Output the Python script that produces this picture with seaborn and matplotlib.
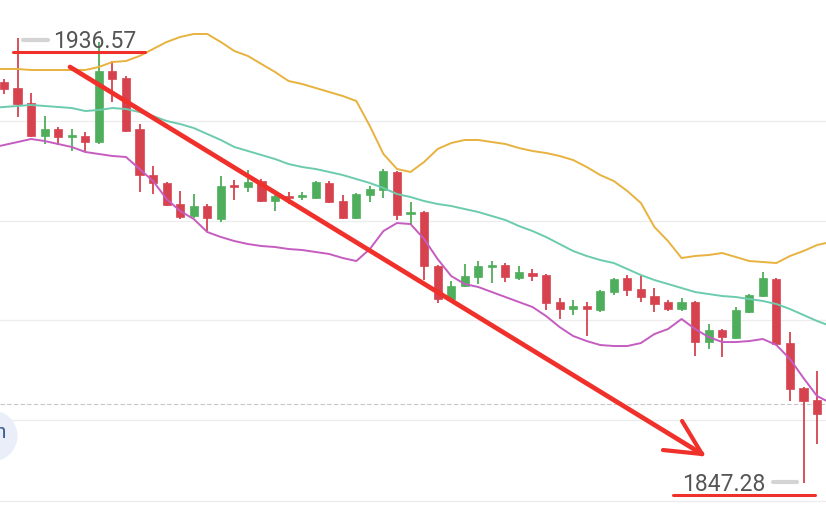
import numpy as np
import pandas as pd
import seaborn as sns
import matplotlib.pyplot as plt
from matplotlib.patches import Ellipse

# %% data (prices)
opens = [1927.80, 1926.60, 1923.59, 1916.97, 1918.37, 1916.77, 1916.97, 1915.76, 1930.01, 1928.60,
         1918.37, 1909.14, 1907.54, 1903.33, 1900.92, 1902.93, 1900.32, 1907.14, 1906.74, 1907.94,
         1903.93, 1904.93, 1904.73, 1904.53, 1907.54, 1903.93, 1900.52, 1905.13, 1906.14, 1909.75,
         1901.32, 1901.72, 1890.89, 1884.27, 1886.88, 1888.68, 1890.69, 1891.09, 1888.48, 1889.49,
         1889.08, 1883.67, 1882.26, 1882.86, 1882.06, 1885.67, 1888.48, 1886.28, 1884.87, 1883.67,
         1882.26, 1883.67, 1875.64, 1878.05, 1876.45, 1881.66, 1884.87, 1888.28, 1875.44, 1866.42,
         1864.01]
highs = [1928.40, 1936.57, 1925.59, 1920.98, 1918.77, 1918.37, 1917.77, 1935.82, 1932.01, 1929.00,
         1919.37, 1910.95, 1907.74, 1905.93, 1905.33, 1903.33, 1908.94, 1908.14, 1910.15, 1908.34,
         1905.13, 1905.73, 1905.73, 1907.94, 1907.94, 1905.13, 1905.53, 1906.94, 1910.35, 1909.95,
         1903.73, 1901.92, 1891.09, 1887.88, 1891.29, 1891.89, 1891.89, 1891.49, 1890.89, 1890.29,
         1889.28, 1884.47, 1884.07, 1883.67, 1886.08, 1888.48, 1889.08, 1888.88, 1886.48, 1884.07,
         1884.47, 1883.87, 1879.25, 1878.25, 1882.67, 1885.27, 1889.69, 1888.48, 1877.65, 1866.62,
         1869.83]
lows = [1925.39, 1920.78, 1916.77, 1915.36, 1915.16, 1913.96, 1913.96, 1915.36, 1923.79, 1917.77,
        1905.73, 1905.33, 1902.93, 1900.32, 1900.52, 1897.91, 1899.72, 1904.13, 1905.73, 1903.73,
        1901.92, 1903.33, 1904.13, 1904.33, 1903.53, 1900.32, 1900.32, 1903.73, 1904.53, 1900.12,
        1899.31, 1888.08, 1883.47, 1883.67, 1886.68, 1887.28, 1887.48, 1887.68, 1888.08, 1887.88,
        1882.06, 1880.26, 1881.06, 1876.85, 1881.66, 1885.07, 1884.87, 1883.67, 1881.66, 1881.86,
        1881.86, 1872.84, 1874.24, 1872.64, 1876.25, 1881.46, 1884.67, 1875.04, 1863.81, 1847.28,
        1855.18]
closes = [1926.40, 1923.39, 1916.97, 1918.37, 1916.77, 1916.97, 1915.76, 1930.01, 1928.40, 1917.97,
          1909.14, 1907.54, 1903.13, 1900.72, 1902.93, 1900.52, 1906.94, 1906.74, 1907.74, 1903.93,
          1904.93, 1904.53, 1905.13, 1907.74, 1903.73, 1900.52, 1905.33, 1906.34, 1909.95, 1901.12,
          1901.72, 1890.89, 1884.27, 1886.88, 1888.88, 1890.89, 1891.09, 1888.68, 1889.69, 1888.88,
          1883.47, 1882.26, 1882.86, 1882.26, 1885.87, 1888.28, 1886.08, 1884.67, 1883.27, 1882.26,
          1883.67, 1875.64, 1878.05, 1876.65, 1882.06, 1885.07, 1888.48, 1875.24, 1866.22, 1863.81,
          1861.20]

# bollinger bands, one point before and after the visible candles
band_upper = [1930.41, 1930.41, 1930.41, 1930.21, 1930.21, 1930.21, 1930.21, 1930.21, 1930.81, 1931.81,
              1932.01, 1933.02, 1934.42, 1935.82, 1936.83, 1937.43, 1937.43, 1935.82, 1934.02, 1933.02,
              1931.41, 1929.81, 1928.00, 1927.40, 1926.60, 1925.79, 1924.99, 1923.99, 1918.97, 1913.36,
              1910.35, 1909.75, 1911.75, 1914.36, 1915.56, 1916.17, 1916.17, 1915.76, 1915.36, 1914.56,
              1913.96, 1913.56, 1912.96, 1912.15, 1910.75, 1909.14, 1907.94, 1905.93, 1903.53, 1898.71,
              1895.90, 1892.49, 1892.90, 1893.10, 1893.50, 1892.70, 1891.89, 1891.69, 1891.49, 1892.90,
              1893.90, 1895.10, 1895.70]
band_mid = [1922.58, 1922.79, 1922.99, 1923.19, 1922.99, 1922.79, 1922.58, 1921.98, 1922.18, 1922.58,
            1922.38, 1921.78, 1920.98, 1919.98, 1919.37, 1918.57, 1917.37, 1916.17, 1914.76, 1913.96,
            1913.16, 1912.35, 1911.35, 1910.75, 1910.35, 1909.75, 1909.14, 1908.34, 1907.54, 1906.54,
            1905.33, 1904.73, 1903.93, 1903.33, 1902.93, 1902.32, 1901.72, 1900.92, 1900.12, 1898.91,
            1897.91, 1896.71, 1895.30, 1893.90, 1892.90, 1892.09, 1891.49, 1890.29, 1889.08, 1888.08,
            1887.28, 1886.48, 1885.67, 1885.27, 1884.87, 1884.67, 1884.27, 1883.87, 1883.27, 1882.26,
            1881.06, 1879.86, 1878.85]
band_lower = [1914.56, 1915.16, 1915.76, 1916.37, 1915.96, 1915.36, 1914.76, 1913.76, 1913.36, 1912.96,
              1912.76, 1910.35, 1907.94, 1904.33, 1901.92, 1900.32, 1897.71, 1896.71, 1895.90, 1895.30,
              1894.90, 1894.70, 1894.30, 1894.10, 1893.70, 1893.30, 1892.49, 1891.89, 1894.30, 1897.91,
              1899.51, 1899.31, 1896.31, 1892.29, 1888.88, 1887.28, 1886.68, 1885.67, 1884.67, 1883.67,
              1882.67, 1880.86, 1878.65, 1876.85, 1875.84, 1875.04, 1874.84, 1874.84, 1875.44, 1877.25,
              1878.25, 1880.26, 1878.25, 1876.65, 1875.64, 1875.64, 1875.84, 1876.25, 1875.04, 1872.23,
              1868.42, 1864.81, 1863.41]

high_label = "1936.57"
low_label = "1847.28"
grid_levels = [1860, 1880, 1900, 1920]
last_price = 1863.2

# hand-drawn annotations (bar index, price)
arrow_start = (4.87, 1930.81)
arrow_tip = (51.51, 1853.18)
arrow_arms = [(50.04, 1859.80), (48.63, 1853.98)]
top_mark = ((0.66, 10.41), 1933.82)
bottom_mark = ((49.37, 59.85), 1844.95)

# %% styling
RED = "#d6434f"
GREEN = "#4fae5c"
UPPER_C = "#e8b23e"
MID_C = "#6ccbae"
LOWER_C = "#c55cc0"
PEN = "#f0302a"

sns.set_theme(style="white")
plt.rcParams["font.family"] = ["Roboto", "DejaVu Sans"]

n = len(opens)
df = pd.DataFrame({"idx": np.arange(n), "open": opens, "high": highs, "low": lows, "close": closes})
df["up"] = df.close >= df.open
bands = pd.DataFrame({
    "idx": np.arange(-1, n + 1),
    "upper": band_upper,
    "mid": band_mid,
    "lower": band_lower,
})

fig = plt.figure(figsize=(8.26, 5.10), dpi=100)
ax = fig.add_axes([0, 0, 1, 1])
ax.axis("off")

# grid + last-price line
for lvl in grid_levels:
    ax.axhline(lvl, color="#ececec", lw=0.9, zorder=0)
ax.axhline(1843.75, color="#ececec", lw=0.9, zorder=0)
ax.axhline(last_price, color="#c8c8c8", lw=0.8, ls=(0, (4, 2)), zorder=0)

# candles
for _, r in df.iterrows():
    c = GREEN if r.up else RED
    ax.vlines(r.idx, r.low, r.high, color=c, lw=1.3, zorder=2)
    body = max(abs(r.close - r.open), 0.4)
    ax.bar(r.idx, body, bottom=min(r.open, r.close), width=0.6, color=c, edgecolor=c, lw=0.5, zorder=3)

# bands
sns.lineplot(data=bands, x="idx", y="upper", ax=ax, color=UPPER_C, lw=1.4, zorder=4)
sns.lineplot(data=bands, x="idx", y="mid", ax=ax, color=MID_C, lw=1.4, zorder=4)
sns.lineplot(data=bands, x="idx", y="lower", ax=ax, color=LOWER_C, lw=1.4, zorder=4)
ax.set_xlim(-0.295, 60.66)
ax.set_ylim(1842.15, 1944.45)

# arrow
ax.plot([arrow_start[0], arrow_tip[0]], [arrow_start[1], arrow_tip[1]], color=PEN, lw=3.4,
        solid_capstyle="round", zorder=6)
for ax_x, ax_y in arrow_arms:
    ax.plot([ax_x, arrow_tip[0]], [ax_y, arrow_tip[1]], color=PEN, lw=3.0,
            solid_capstyle="round", zorder=6)

# high / low marks
ax.plot(top_mark[0], [top_mark[1]] * 2, color=PEN, lw=2.2, zorder=6)
ax.plot(bottom_mark[0], [bottom_mark[1]] * 2, color=PEN, lw=2.2, zorder=6)

ax.plot([1.4, 3.25], [1936.2, 1936.2], color="#d4d4d4", lw=3, zorder=5)
ax.text(3.62, 1936.1, high_label, fontsize=16.5, color="#555555", va="center", ha="left", zorder=7)
ax.plot([56.75, 58.5], [1847.5, 1847.5], color="#d4d4d4", lw=3, zorder=5)
ax.text(56.2, 1847.3, low_label, fontsize=16.5, color="#555555", va="center", ha="right", zorder=7)

# side badge cut by the left edge (25 px radius -> data units per axis)
ax.add_patch(Ellipse((-0.9, 1856.8), 3.69, 10.0, color="#e9eef9", zorder=1, clip_on=True))
ax.text(-0.25, 1857.7, "n", fontsize=15, color="#3c5f93", va="center", ha="center", zorder=2,
        clip_on=True)

fig.savefig("out.png", dpi=100)
